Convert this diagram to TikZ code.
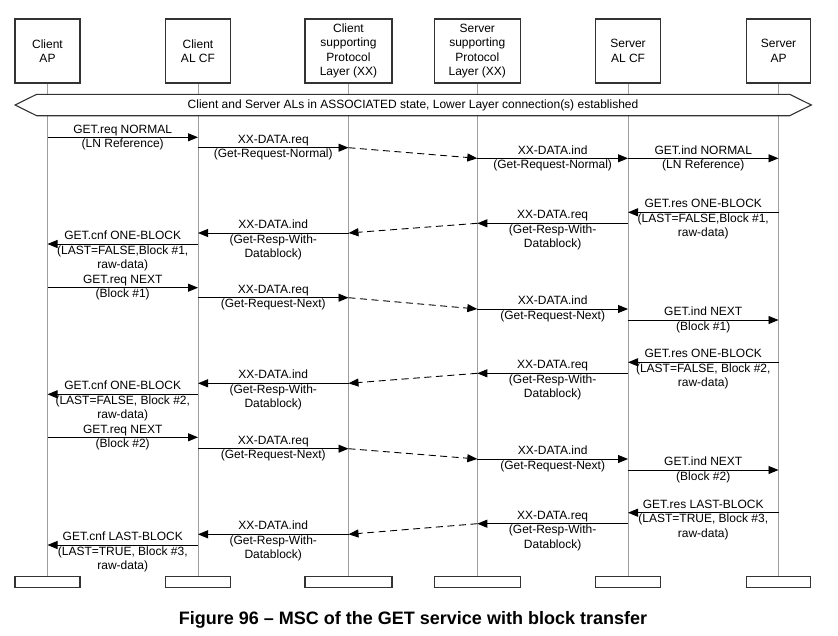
\documentclass[tikz,border=0pt]{standalone}
\usepackage{fontspec}
\setmainfont{Liberation Sans}
\usepackage{xcolor}
\usepackage{tikz}
\usetikzlibrary{arrows.meta}

\begin{document}
\begin{tikzpicture}[x  = {(1pt,0pt)},
                    y  = {(0pt,-1pt)},
                    scale = 1,
                    font = {\fontsize{12}{14.5}\selectfont}]

  \useasboundingbox (0,0) rectangle (838,635);


  % COLORS
  \definecolor{boxcolor_msc}{rgb}{ 0.2,0.2,0.2 }
  \definecolor{lifecolor_msc}{rgb}{ 0.62,0.62,0.62 }
  \definecolor{edgecolor_msc}{rgb}{ 0,0,0 }


  % STYLES
  \tikzstyle{headstyle_msc} = [draw=boxcolor_msc, fill=white, line width=1.1pt, align=center, inner sep=0pt, minimum height=64pt]
  \tikzstyle{footstyle_msc} = [draw=boxcolor_msc, fill=white, line width=1.1pt, inner sep=0pt, minimum height=11pt]
  \tikzstyle{lifestyle_msc} = [draw=lifecolor_msc, line width=0.9pt]
  \tikzstyle{msgstyle_msc} = [draw=edgecolor_msc, line width=0.9pt, -{Triangle[length=10pt,width=8pt]}]
  \tikzstyle{dashstyle_msc} = [msgstyle_msc, dash pattern=on 7pt off 4.5pt]
  \tikzstyle{labelstyle_msc} = [align=center, inner sep=0pt]
  \tikzstyle{labelthree_msc} = [labelstyle_msc, yshift=-7pt]


  % HEADS
  \node[headstyle_msc, minimum width=65pt] (cap_head) at (47.5,51) {Client\\AP};
  \node[headstyle_msc, minimum width=64.5pt] (calcf_head) at (198,51) {Client\\AL CF};
  \node[headstyle_msc, minimum width=87pt] (cxx_head) at (348.5,51) {Client\\supporting\\Protocol\\Layer (XX)};
  \node[headstyle_msc, minimum width=86pt] (sxx_head) at (477.3,51) {Server\\supporting\\Protocol\\Layer (XX)};
  \node[headstyle_msc, minimum width=65pt] (salcf_head) at (628,51) {Server\\AL CF};
  \node[headstyle_msc, minimum width=64.5pt] (sap_head) at (778.5,51) {Server\\AP};


  % FEET
  \node[footstyle_msc, minimum width=65pt] (cap_foot) at (47.5,582.2) {};
  \node[footstyle_msc, minimum width=64.5pt] (calcf_foot) at (198,582.2) {};
  \node[footstyle_msc, minimum width=87pt] (cxx_foot) at (348.5,582.2) {};
  \node[footstyle_msc, minimum width=86pt] (sxx_foot) at (477.3,582.2) {};
  \node[footstyle_msc, minimum width=65pt] (salcf_foot) at (628,582.2) {};
  \node[footstyle_msc, minimum width=64.5pt] (sap_foot) at (778.5,582.2) {};


  % LIFELINES
  \draw[lifestyle_msc] (cap_head) -- (cap_foot);
  \draw[lifestyle_msc] (calcf_head) -- (calcf_foot);
  \draw[lifestyle_msc] (cxx_head) -- (cxx_foot);
  \draw[lifestyle_msc] (sxx_head) -- (sxx_foot);
  \draw[lifestyle_msc] (salcf_head) -- (salcf_foot);
  \draw[lifestyle_msc] (sap_head) -- (sap_foot);


  % STATE BANNER
  \coordinate (b0_msc) at (15,105);
  \coordinate (b1_msc) at (36.7,94.3);
  \coordinate (b2_msc) at (789.7,94.3);
  \coordinate (b3_msc) at (811.3,105);
  \coordinate (b4_msc) at (789.7,115.7);
  \coordinate (b5_msc) at (36.7,115.7);
  \draw[draw=boxcolor_msc, fill=white, line width=1.1pt, line join=miter] (b0_msc) -- (b1_msc) -- (b2_msc) -- (b3_msc) -- (b4_msc) -- (b5_msc) -- cycle;
  \node[labelstyle_msc] (state_msc) at (413,105) {Client and Server ALs in ASSOCIATED state, Lower Layer connection(s) established};


  % DEF POINTS
  \coordinate (m1_from) at (47.5,137.3);
  \coordinate (m1_to) at (198,137.3);
  \coordinate (m2_from) at (198,147.7);
  \coordinate (m2_to) at (348.5,147.7);
  \coordinate (m3_from) at (348.5,147.7);
  \coordinate (m3_to) at (477.3,158.3);
  \coordinate (m4_from) at (477.3,158.3);
  \coordinate (m4_to) at (628,158.3);
  \coordinate (m5_from) at (628,158.3);
  \coordinate (m5_to) at (778.5,158.3);
  \coordinate (m6_from) at (778.5,212.3);
  \coordinate (m6_to) at (628,212.3);
  \coordinate (m7_from) at (628,223.3);
  \coordinate (m7_to) at (477.3,223.3);
  \coordinate (m8_from) at (477.3,223.3);
  \coordinate (m8_to) at (348.5,233);
  \coordinate (m9_from) at (348.5,233);
  \coordinate (m9_to) at (198,233);
  \coordinate (m10_from) at (198,244);
  \coordinate (m10_to) at (47.5,244);

  \coordinate (m11_from) at (47.5,287.7);
  \coordinate (m11_to) at (198,287.7);
  \coordinate (m12_from) at (198,297.7);
  \coordinate (m12_to) at (348.5,297.7);
  \coordinate (m13_from) at (348.5,297.7);
  \coordinate (m13_to) at (477.3,309);
  \coordinate (m14_from) at (477.3,309);
  \coordinate (m14_to) at (628,309);
  \coordinate (m15_from) at (628,320);
  \coordinate (m15_to) at (778.5,320);
  \coordinate (m16_from) at (778.5,362.3);
  \coordinate (m16_to) at (628,362.3);
  \coordinate (m17_from) at (628,373.3);
  \coordinate (m17_to) at (477.3,373.3);
  \coordinate (m18_from) at (477.3,373.3);
  \coordinate (m18_to) at (348.5,383.3);
  \coordinate (m19_from) at (348.5,383.3);
  \coordinate (m19_to) at (198,383.3);
  \coordinate (m20_from) at (198,394.3);
  \coordinate (m20_to) at (47.5,394.3);

  \coordinate (m21_from) at (47.5,437.3);
  \coordinate (m21_to) at (198,437.3);
  \coordinate (m22_from) at (198,448.7);
  \coordinate (m22_to) at (348.5,448.7);
  \coordinate (m23_from) at (348.5,448.7);
  \coordinate (m23_to) at (477.3,459);
  \coordinate (m24_from) at (477.3,459);
  \coordinate (m24_to) at (628,459);
  \coordinate (m25_from) at (628,470);
  \coordinate (m25_to) at (778.5,470);
  \coordinate (m26_from) at (778.5,512.7);
  \coordinate (m26_to) at (628,512.7);
  \coordinate (m27_from) at (628,523.7);
  \coordinate (m27_to) at (477.3,523.7);
  \coordinate (m28_from) at (477.3,523.7);
  \coordinate (m28_to) at (348.5,534.3);
  \coordinate (m29_from) at (348.5,534.3);
  \coordinate (m29_to) at (198,534.3);
  \coordinate (m30_from) at (198,545);
  \coordinate (m30_to) at (47.5,545);


  % MESSAGES, GET.req NORMAL
  \draw[msgstyle_msc] (m1_from) -- (m1_to) node[labelstyle_msc, midway] (t1_msc) {GET.req NORMAL\\(LN Reference)};
  \draw[msgstyle_msc] (m2_from) -- (m2_to) node[labelstyle_msc, midway] (t2_msc) {XX-DATA.req\\(Get-Request-Normal)};
  \draw[dashstyle_msc] (m3_from) -- (m3_to);
  \draw[msgstyle_msc] (m4_from) -- (m4_to) node[labelstyle_msc, midway] (t4_msc) {XX-DATA.ind\\(Get-Request-Normal)};
  \draw[msgstyle_msc] (m5_from) -- (m5_to) node[labelstyle_msc, midway] (t5_msc) {GET.ind NORMAL\\(LN Reference)};
  \draw[msgstyle_msc] (m6_from) -- (m6_to) node[labelthree_msc, midway] (t6_msc) {GET.res ONE-BLOCK\\(LAST=FALSE,Block \#1,\\raw-data)};
  \draw[msgstyle_msc] (m7_from) -- (m7_to) node[labelthree_msc, midway] (t7_msc) {XX-DATA.req\\(Get-Resp-With-\\Datablock)};
  \draw[dashstyle_msc] (m8_from) -- (m8_to);
  \draw[msgstyle_msc] (m9_from) -- (m9_to) node[labelthree_msc, midway] (t9_msc) {XX-DATA.ind\\(Get-Resp-With-\\Datablock)};
  \draw[msgstyle_msc] (m10_from) -- (m10_to) node[labelthree_msc, midway] (t10_msc) {GET.cnf ONE-BLOCK\\(LAST=FALSE,Block \#1,\\raw-data)};


  % MESSAGES, GET.req NEXT 1
  \draw[msgstyle_msc] (m11_from) -- (m11_to) node[labelstyle_msc, midway] (t11_msc) {GET.req NEXT\\(Block \#1)};
  \draw[msgstyle_msc] (m12_from) -- (m12_to) node[labelstyle_msc, midway] (t12_msc) {XX-DATA.req\\(Get-Request-Next)};
  \draw[dashstyle_msc] (m13_from) -- (m13_to);
  \draw[msgstyle_msc] (m14_from) -- (m14_to) node[labelstyle_msc, midway] (t14_msc) {XX-DATA.ind\\(Get-Request-Next)};
  \draw[msgstyle_msc] (m15_from) -- (m15_to) node[labelstyle_msc, midway] (t15_msc) {GET.ind NEXT\\(Block \#1)};
  \draw[msgstyle_msc] (m16_from) -- (m16_to) node[labelthree_msc, midway] (t16_msc) {GET.res ONE-BLOCK\\(LAST=FALSE, Block \#2,\\raw-data)};
  \draw[msgstyle_msc] (m17_from) -- (m17_to) node[labelthree_msc, midway] (t17_msc) {XX-DATA.req\\(Get-Resp-With-\\Datablock)};
  \draw[dashstyle_msc] (m18_from) -- (m18_to);
  \draw[msgstyle_msc] (m19_from) -- (m19_to) node[labelthree_msc, midway] (t19_msc) {XX-DATA.ind\\(Get-Resp-With-\\Datablock)};
  \draw[msgstyle_msc] (m20_from) -- (m20_to) node[labelthree_msc, midway] (t20_msc) {GET.cnf ONE-BLOCK\\(LAST=FALSE, Block \#2,\\raw-data)};


  % MESSAGES, GET.req NEXT 2
  \draw[msgstyle_msc] (m21_from) -- (m21_to) node[labelstyle_msc, midway] (t21_msc) {GET.req NEXT\\(Block \#2)};
  \draw[msgstyle_msc] (m22_from) -- (m22_to) node[labelstyle_msc, midway] (t22_msc) {XX-DATA.req\\(Get-Request-Next)};
  \draw[dashstyle_msc] (m23_from) -- (m23_to);
  \draw[msgstyle_msc] (m24_from) -- (m24_to) node[labelstyle_msc, midway] (t24_msc) {XX-DATA.ind\\(Get-Request-Next)};
  \draw[msgstyle_msc] (m25_from) -- (m25_to) node[labelstyle_msc, midway] (t25_msc) {GET.ind NEXT\\(Block \#2)};
  \draw[msgstyle_msc] (m26_from) -- (m26_to) node[labelthree_msc, midway] (t26_msc) {GET.res LAST-BLOCK\\(LAST=TRUE, Block \#3,\\raw-data)};
  \draw[msgstyle_msc] (m27_from) -- (m27_to) node[labelthree_msc, midway] (t27_msc) {XX-DATA.req\\(Get-Resp-With-\\Datablock)};
  \draw[dashstyle_msc] (m28_from) -- (m28_to);
  \draw[msgstyle_msc] (m29_from) -- (m29_to) node[labelthree_msc, midway] (t29_msc) {XX-DATA.ind\\(Get-Resp-With-\\Datablock)};
  \draw[msgstyle_msc] (m30_from) -- (m30_to) node[labelthree_msc, midway] (t30_msc) {GET.cnf LAST-BLOCK\\(LAST=TRUE, Block \#3,\\raw-data)};


  % CAPTION
  \node[inner sep=0pt, font={\fontsize{18}{20}\selectfont\bfseries}] (caption_msc) at (413,620) {Figure 96 -- MSC of the GET service with block transfer};

\end{tikzpicture}
\end{document}
